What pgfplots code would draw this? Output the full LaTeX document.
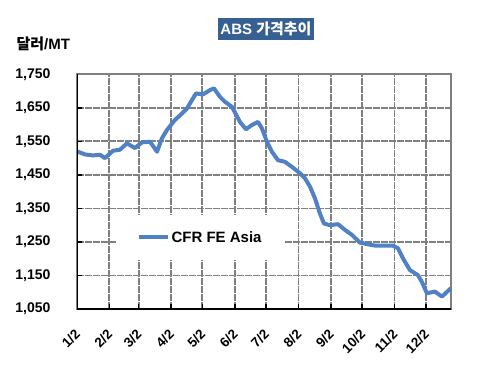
\documentclass[border=0pt]{standalone}
\usepackage{pgfplots}
\pgfplotsset{compat=1.18}
\usepackage{fontspec}
\setmainfont{Liberation Sans}
\newfontfamily\kr{Noto Sans CJK KR}
\definecolor{linecol}{RGB}{79,129,196}
\definecolor{titlebg}{RGB}{54,96,146}
\definecolor{gridcol}{RGB}{128,128,128}
\begin{document}
\begin{tikzpicture}[x=1pt,y=1pt]
\path (0,0) rectangle (482,378);
\begin{axis}[
  at={(77pt,69pt)}, anchor=south west,
  scale only axis, width=374pt, height=234.7pt,
  xmin=0, xmax=358, ymin=1050, ymax=1750,
  xtick={0,31,59,90,120,151,181,212,243,273,304,334},
  xticklabels={1/2,2/2,3/2,4/2,5/2,6/2,7/2,8/2,9/2,10/2,11/2,12/2},
  ytick={1050,1150,1250,1350,1450,1550,1650,1750},
  /pgf/number format/.cd, 1000 sep={,}, assume math mode=true, /pgfplots/.cd,
  yticklabel style={font=\bfseries\fontsize{14}{14}\selectfont, xshift=-23pt},
  xticklabel style={font=\bfseries\fontsize{13.5}{13.5}\selectfont, xshift=-3pt, yshift=-18pt, rotate=45, anchor=north east, inner sep=1pt},
  tick pos=left, tick align=inside,
  major tick length=5pt,
  tick style={black, line width=1.5pt},
  grid=major,
  major grid style={gridcol, line width=1.8pt, dash pattern=on 7pt off 1pt},
  axis line style={gridcol, line width=1.8pt},
  legend style={at={(0.329,0.305)}, anchor=center, draw=none, fill=white,
    inner xsep=20pt, inner ysep=14pt, font=\bfseries\fontsize{15}{15}\selectfont},
  legend image code/.code={\draw[linecol, line width=4pt] (0pt,0pt) -- (29pt,0pt);},
  legend cell align=left,
]
\addplot[linecol, line width=4pt, line join=round] coordinates {
(0,1520) (7.7,1511) (15.3,1508) (22,1510) (26.8,1500) (34.4,1522) (41.1,1525)
(47.8,1544) (55.5,1530) (62.2,1547) (69.9,1549) (76.6,1519) (81.3,1559)
(86.1,1584) (93.8,1614) (100.5,1633) (105.3,1648) (110,1673) (113.9,1693)
(120.6,1690) (127.3,1703) (131.1,1708) (136.8,1683) (141.6,1668) (148.3,1653)
(156,1608) (161.7,1586) (167.5,1599) (173.2,1608) (177,1589) (181.8,1549)
(186.6,1519) (192.3,1494) (199,1489) (205.7,1474) (213.4,1455) (218.2,1440)
(223,1415) (227.8,1380) (232.5,1335) (236.4,1305) (242.1,1300) (249.8,1303)
(256.5,1286) (263.2,1271) (270.8,1248) (278.5,1243) (285.2,1239) (294.7,1239)
(302.4,1239) (307.2,1231) (312,1201) (318.7,1166) (326.3,1151) (330.1,1131)
(334.9,1097) (342.6,1102) (349.3,1087) (357.9,1112)
};
\addlegendentry{CFR FE Asia}
\draw[black, line width=2pt] (rel axis cs:0,1) -- (rel axis cs:0,0) -- (rel axis cs:1,0);
\end{axis}
\node[fill=titlebg, text=white, font=\bfseries\fontsize{15}{15}\selectfont, inner xsep=2pt, inner ysep=4pt] at (266,349) {ABS {\kr 가격추이}};
\node[anchor=west, font=\bfseries\fontsize{15}{15}\selectfont] at (13,334) {{\kr 달러}/MT};
\end{tikzpicture}
\end{document}
